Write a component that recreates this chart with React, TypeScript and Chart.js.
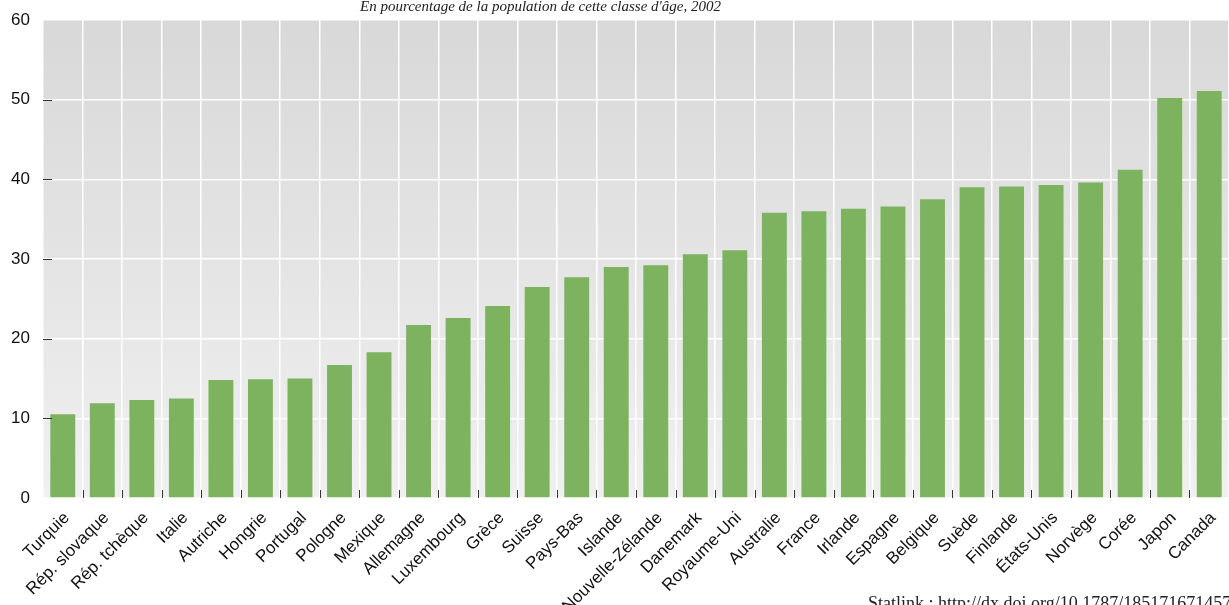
import React, { useEffect, useRef } from "react";
import { Chart, registerables } from "chart.js";

Chart.register(...registerables);

const categories: string[] = [
  "Turquie", "Rép. slovaque", "Rép. tchèque", "Italie", "Autriche", "Hongrie",
  "Portugal", "Pologne", "Mexique", "Allemagne", "Luxembourg", "Grèce",
  "Suisse", "Pays-Bas", "Islande", "Nouvelle-Zélande", "Danemark", "Royaume-Uni",
  "Australie", "France", "Irlande", "Espagne", "Belgique", "Suède",
  "Finlande", "États-Unis", "Norvège", "Corée", "Japon", "Canada",
];

const values: number[] = [
  10.5, 11.9, 12.3, 12.5, 14.8, 14.9,
  15.0, 16.7, 18.3, 21.7, 22.6, 24.1,
  26.5, 27.7, 29.0, 29.2, 30.6, 31.1,
  35.8, 36.0, 36.3, 36.6, 37.5, 39.0,
  39.1, 39.3, 39.6, 41.2, 50.2, 51.1,
];

const yTicks: number[] = [0, 10, 20, 30, 40, 50, 60];

const subtitle = "En pourcentage de la population de cette classe d'âge, 2002";
const statlink = "Statlink : http://dx.doi.org/10.1787/185171671457";

const FONT = "'Liberation Sans Narrow', 'Arial Narrow', 'Liberation Sans', sans-serif";

const decorPlugin = {
  id: "decor",
  beforeDraw(chart: any) {
    const { ctx, chartArea } = chart;
    const g = ctx.createLinearGradient(0, chartArea.top, 0, chartArea.bottom);
    g.addColorStop(0, "#d8d8d8");
    g.addColorStop(1, "#f0f0f0");
    ctx.save();
    ctx.fillStyle = g;
    ctx.fillRect(chartArea.left, chartArea.top, chartArea.right - chartArea.left, chartArea.bottom - chartArea.top);
    ctx.restore();
  },
  afterDatasetsDraw(chart: any) {
    const { ctx, chartArea, scales } = chart;
    const xs = scales.x;
    const ys = scales.y;
    ctx.save();
    ctx.strokeStyle = "#333333";
    ctx.lineWidth = 1;
    for (let i = 1; i < categories.length; i++) {
      const x = Math.round((xs.getPixelForValue(i - 1) + xs.getPixelForValue(i)) / 2) + 0.5;
      ctx.beginPath();
      ctx.moveTo(x, chartArea.bottom - 8);
      ctx.lineTo(x, chartArea.bottom);
      ctx.stroke();
    }
    for (const v of yTicks) {
      if (v === 0 || v === 60) continue;
      const y = Math.round(ys.getPixelForValue(v)) + 0.5;
      ctx.beginPath();
      ctx.moveTo(chartArea.left, y);
      ctx.lineTo(chartArea.left + 9, y);
      ctx.stroke();
    }
    ctx.restore();
  },
};

export default function App() {
  const ref = useRef<HTMLCanvasElement | null>(null);

  useEffect(() => {
    if (!ref.current) return;
    const chart = new Chart(ref.current, {
      type: "bar",
      data: {
        labels: categories,
        datasets: [
          {
            data: values,
            backgroundColor: "#7db35f",
            borderWidth: 0,
            barPercentage: 0.63,
            categoryPercentage: 1,
          },
        ],
      },
      options: {
        animation: false,
        responsive: false,
        maintainAspectRatio: false,
        layout: { padding: { top: 20, left: 0, right: 0, bottom: 0 } },
        plugins: {
          legend: { display: false },
          tooltip: { enabled: false },
          title: { display: false },
        },
        scales: {
          x: {
            offset: true,
            grid: {
              offset: true,
              color: "#ffffff",
              lineWidth: 1.5,
              drawTicks: false,
            },
            border: { display: false },
            ticks: {
              autoSkip: false,
              maxRotation: 45,
              minRotation: 45,
              padding: 10,
              labelOffset: 4,
              color: "#111111",
              font: { family: FONT, size: 17 },
            },
            afterFit: (scale: any) => {
              scale.height = 107;
              scale.paddingLeft = 0;
              scale.paddingRight = 0;
            },
          },
          y: {
            min: 0,
            max: 60,
            grid: {
              color: "#ffffff",
              lineWidth: 1.5,
              drawTicks: false,
            },
            border: { display: false },
            ticks: {
              stepSize: 10,
              padding: 13,
              color: "#111111",
              font: { family: FONT, size: 17 },
              callback: (v: any) => String(v),
            },
            afterFit: (scale: any) => {
              scale.width = 43;
              scale.paddingTop = 0;
              scale.paddingBottom = 0;
            },
          },
        },
      },
      plugins: [decorPlugin],
    });
    return () => chart.destroy();
  }, []);

  return (
    <div
      style={{
        position: "fixed",
        left: 0,
        top: 0,
        width: 1229,
        height: 605,
        overflow: "hidden",
        background: "#ffffff",
      }}
    >
      <canvas ref={ref} width={1229} height={605} style={{ position: "absolute", left: 0, top: 0 }} />
      <div
        style={{
          position: "absolute",
          left: 360,
          top: -4,
          fontFamily: "'Liberation Serif', 'DejaVu Serif', serif",
          fontStyle: "italic",
          fontSize: 15,
          lineHeight: "20px",
          color: "#222222",
          whiteSpace: "nowrap",
        }}
      >
        {subtitle}
      </div>
      <div
        style={{
          position: "absolute",
          left: 868,
          top: 593,
          fontFamily: "'Liberation Serif', 'DejaVu Serif', serif",
          fontSize: 18,
          lineHeight: "20px",
          color: "#222222",
          whiteSpace: "nowrap",
        }}
      >
        {statlink}
      </div>
    </div>
  );
}
